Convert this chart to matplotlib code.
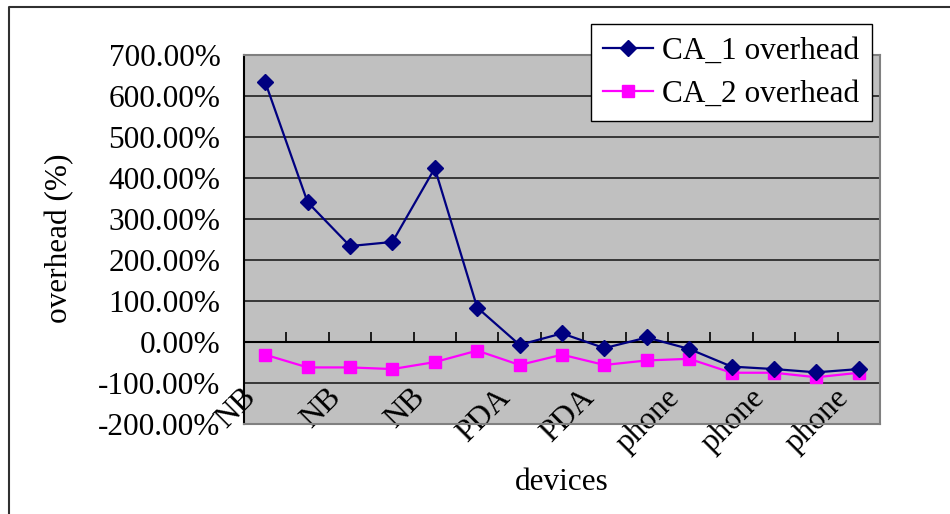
#
import numpy as np
from matplotlib import pyplot as plt
from matplotlib.lines import Line2D
from matplotlib.transforms import ScaledTranslation

plt.rcParams['font.family'] = ['Liberation Serif', 'DejaVu Serif']

# data
devices = [ 'NB', 'NB', 'NB', 'NB', 'NB', 'PDA', 'PDA', 'PDA', 'PDA', 'PDA',
            'phone', 'phone', 'phone', 'phone', 'phone' ]
ca1_overhead = [ 634, 341, 234, 244, 424, 84, -7, 21, -15, 11, -17, -60, -66, -74, -66 ]
ca2_overhead = [ -31, -62, -62, -66, -49, -21, -56, -31, -56, -45, -41, -75, -75, -86, -75 ]
y_ticks = [ -200, -100, 0, 100, 200, 300, 400, 500, 600, 700 ]
shown_labels = [ 'NB', 'NB', 'NB', 'PDA', 'PDA', 'phone', 'phone', 'phone' ]

fs = 22.5
W, H = 950, 514

#
fig = plt.figure( figsize=( W/100, H/100 ), dpi=100 )
ax = fig.add_axes( [ 244/W, 1-424/H, (880-244)/W, (424-55)/H ] )
ax.set_facecolor( '#C0C0C0' )

x = np.arange( len( devices ) )
ax.plot( x, ca1_overhead, color='#000080', lw=1.6, marker='D', ms=8, label='CA_1 overhead', zorder=4 )
ax.plot( x, ca2_overhead, color='#FF00FF', lw=1.6, marker='s', ms=8.5, label='CA_2 overhead', zorder=3 )

ax.set_xlim( -0.5, len( devices ) - 0.5 )
ax.set_ylim( y_ticks[0], y_ticks[-1] )
ax.set_yticks( y_ticks )
ax.set_yticklabels( [ f"{v:.2f}%" for v in y_ticks ], fontsize=fs )
ax.tick_params( axis='y', length=0, pad=17 )
ax.grid( axis='y', color='#202020', lw=1.2 )
ax.set_axisbelow( True )

# category labels, every other one, low position
ax.set_xticks( x[::2] )
ax.set_xticklabels( shown_labels, fontsize=fs, rotation=45, ha='right', va='center', rotation_mode='anchor' )
ax.tick_params( axis='x', length=0, pad=-22 )
shift = ScaledTranslation( -14/100, 0, fig.dpi_scale_trans )
for lab in ax.get_xticklabels():
    lab.set_transform( lab.get_transform() + shift )

# the category axis crosses at zero with tick marks between categories
ax.axhline( 0, color='black', lw=1.5, zorder=2 )
secax = ax.secondary_xaxis( -y_ticks[0] / ( y_ticks[-1] - y_ticks[0] ) )
secax.set_xticks( x[:-1] + 0.5 )
secax.tick_params( direction='in', length=7, width=1.2, labelbottom=False, color='black' )
secax.spines['bottom'].set_visible( False )

for side in [ 'top', 'right', 'bottom' ]:
    ax.spines[side].set_color( '#808080' )
    ax.spines[side].set_linewidth( 1.5 )
ax.spines['left'].set_color( 'black' )
ax.spines['left'].set_linewidth( 1.5 )

fig.text( 60/W, 1-238/H, 'overhead (%)', rotation=90, ha='center', va='center', fontsize=fs )
fig.text( 562/W, 1-483/H, 'devices', ha='center', va='center', fontsize=fs )

leg = fig.legend( loc='upper right', bbox_to_anchor=( 872/W, 1-24/H ), fontsize=fs, frameon=True,
                  fancybox=False, framealpha=1, edgecolor='black', handlelength=1.6,
                  borderpad=0.4, labelspacing=0.45, handletextpad=0.3, borderaxespad=0 )
leg.get_frame().set_linewidth( 1.0 )

# chart border
fig.add_artist( Line2D( [ 9/W, 9/W, 1 ], [ 0, 1-7/H, 1-7/H ], color='#303030', lw=1.5, transform=fig.transFigure ) )

fig.savefig( 'out.png', dpi=100 )
